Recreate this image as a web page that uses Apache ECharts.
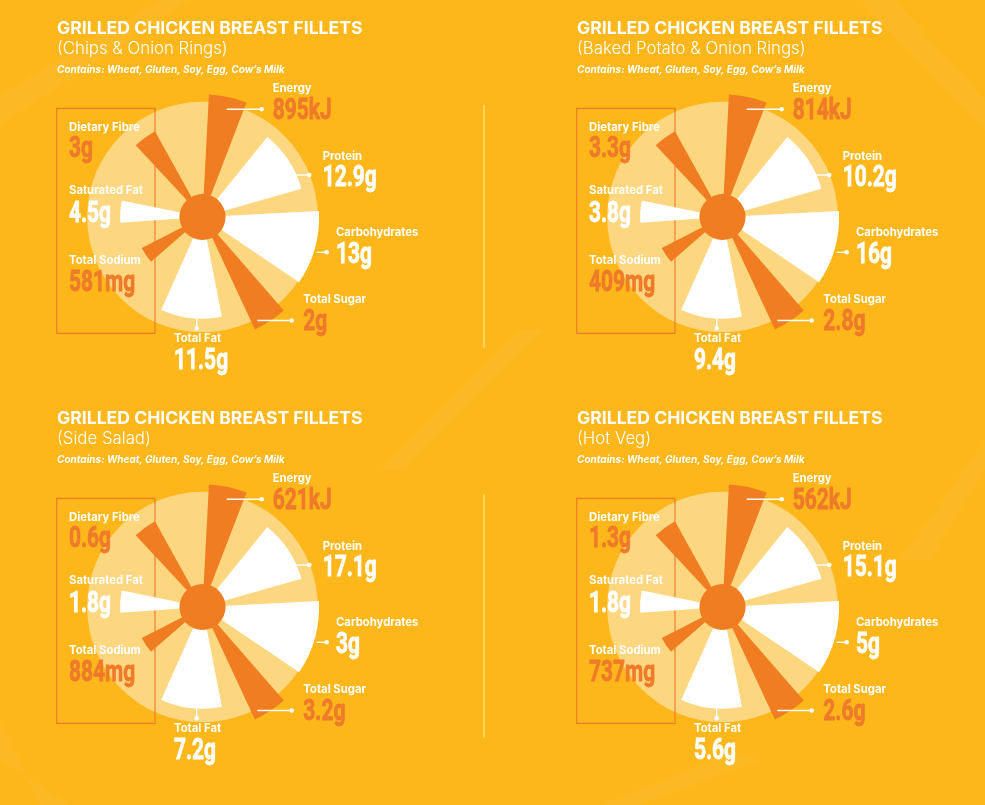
<!DOCTYPE html>
<html><head><meta charset="utf-8">
<script src="https://cdn.jsdelivr.net/npm/echarts@6/dist/echarts.min.js"></script>
<style>html,body{margin:0;padding:0;background:#FDB71B}#c{width:985px;height:805px}</style>
</head><body><div id="c"></div>
<script>
// ---------- data ----------
const title = 'GRILLED CHICKEN BREAST FILLETS';
const sides = ['(Chips & Onion Rings)', '(Baked Potato & Onion Rings)', '(Side Salad)', '(Hot Veg)'];
const allergens = 'Contains: Wheat, Gluten, Soy, Egg, Cow\u2019s Milk';
const nutrients = ['Energy', 'Protein', 'Carbohydrates', 'Total Sugar', 'Total Fat', 'Total Sodium', 'Saturated Fat', 'Dietary Fibre'];
const energy = ['895kJ', '814kJ', '621kJ', '562kJ'];
const protein = ['12.9g', '10.2g', '17.1g', '15.1g'];
const carbohydrates = ['13g', '16g', '3g', '5g'];
const totalSugar = ['2g', '2.8g', '3.2g', '2.6g'];
const totalFat = ['11.5g', '9.4g', '7.2g', '5.6g'];
const totalSodium = ['581mg', '409mg', '884mg', '737mg'];
const saturatedFat = ['4.5g', '3.8g', '1.8g', '1.8g'];
const dietaryFibre = ['3g', '3.3g', '0.6g', '1.3g'];
// decorative rose (same in every panel): angles in degrees clockwise from top, relative length 0-100
const wedgeStart = [3, 39, 87, 139, 169, 229, 266, 317];
const wedgeEnd = [21, 74, 124, 155, 204, 243, 281.5, 331];
const wedgeLength = [99, 83, 94, 100, 82, 55, 66.5, 79];
const wedgeTone = ['orange', 'white', 'white', 'orange', 'white', 'orange', 'white', 'orange'];
const backdropLength = [93];
const hubLength = [18.6];

// ---------- style / layout ----------
const ORANGE = '#F07D22', ORANGE_TXT = '#EE7A2A', WHITE = '#FFFFFF';
const BG = '#FDB71B', LIGHT = '#FDD680';
const centers = [[202.5, 217], [722.5, 217], [202.5, 607], [722.5, 607]];
const valuesByNutrient = [energy, protein, carbohydrates, totalSugar, totalFat, totalSodium, saturatedFat, dietaryFibre];
// label offsets from the rose centre: [x, labelY, valueY]
const labelPos = [
  [70.2, -128.3, -105],
  [120.2, -60.8, -38.2],
  [133.5, 15.5, 38.8],
  [100.8, 83, 105.5],
  [-28.5, 122, 145],
  [-133.5, 43.8, 66.4],
  [-133.5, -26.3, -2.8],
  [-133.5, -89, -67.3]
];
// leader lines: [x1, y1, x2, y2] offsets; dot at (x2, y2)
const leaders = [
  [24.2, -107.7, 59.2, -107.7],
  [94.2, -42, 106.8, -42],
  [114.2, 35.3, 124.2, 35.3],
  [54.8, 103.5, 89.2, 103.5],
  [-5.8, 101.3, -5.8, 111.3]
];

const LABEL_FONT = '700 11.3px Inter, "Open Sans", sans-serif';
const VALUE_FONT = '700 29.5px Roboto, "DejaVu Sans Condensed", sans-serif';
const VALUE_SCALE = 0.71;

function sectorItem(params, api) {
  const r = api.value(0), a1 = api.value(1), a2 = api.value(2);
  const c = api.coord([0, 0]);
  const p1 = api.coord([r, a1]);
  const p2 = api.coord([r, a2]);
  const rad = Math.hypot(p1[0] - c[0], p1[1] - c[1]);
  const fill = api.visual('color');
  if (a2 - a1 >= 360) {
    return { type: 'circle', shape: { cx: c[0], cy: c[1], r: rad }, style: { fill: fill } };
  }
  let s = Math.atan2(p1[1] - c[1], p1[0] - c[0]);
  let e = Math.atan2(p2[1] - c[1], p2[0] - c[0]);
  if (e <= s) e += Math.PI * 2;
  return { type: 'sector', shape: { cx: c[0], cy: c[1], r0: 0, r: rad, startAngle: s, endAngle: e, clockwise: true }, style: { fill: fill } };
}

const polar = [], angleAxis = [], radiusAxis = [], series = [], graphic = [];
const hidden = { axisLine: { show: false }, axisTick: { show: false }, axisLabel: { show: false }, splitLine: { show: false } };

// faint background rays
const rays = [
  [[0, 95], [0, 125], [190, 0], [160, 0]],
  [[380, 470], [405, 470], [545, 330], [520, 330]],
  [[900, 560], [930, 560], [985, 470], [985, 440]],
  [[600, 805], [640, 805], [760, 760], [735, 752]],
  [[0, 720], [0, 760], [70, 805], [40, 805]],
  [[860, 0], [895, 0], [985, 100], [985, 130]]
];
rays.forEach(pts => graphic.push({ type: 'polygon', z: 0, silent: true, shape: { points: pts }, style: { fill: 'rgba(255,255,255,0.035)' } }));

// dividers
graphic.push({ type: 'line', z: 1, shape: { x1: 484, y1: 105, x2: 484, y2: 348 }, style: { stroke: '#FEDC72', lineWidth: 1.5 } });
graphic.push({ type: 'line', z: 1, shape: { x1: 484, y1: 494, x2: 484, y2: 738 }, style: { stroke: '#FEDC72', lineWidth: 1.5 } });

centers.forEach((c, i) => {
  const [cx, cy] = c;
  polar.push({ center: [cx, cy], radius: 124 });
  angleAxis.push(Object.assign({ polarIndex: i, type: 'value', min: 0, max: 360, startAngle: 90, clockwise: true }, hidden));
  radiusAxis.push(Object.assign({ polarIndex: i, type: 'value', min: 0, max: 100 }, hidden));

  series.push({
    type: 'custom', coordinateSystem: 'polar', polarIndex: i, z: 1, silent: true,
    renderItem: sectorItem,
    data: backdropLength.map(r => ({ value: [r, 0, 360], itemStyle: { color: LIGHT } }))
  });
  series.push({
    type: 'custom', coordinateSystem: 'polar', polarIndex: i, z: 3, silent: true,
    renderItem: sectorItem,
    data: nutrients.map((n, k) => ({ name: n, value: [wedgeLength[k], wedgeStart[k], wedgeEnd[k]], itemStyle: { color: wedgeTone[k] === 'orange' ? ORANGE : WHITE } }))
  });
  series.push({
    type: 'custom', coordinateSystem: 'polar', polarIndex: i, z: 4, silent: true,
    renderItem: sectorItem,
    data: hubLength.map(r => ({ value: [r, 0, 360], itemStyle: { color: ORANGE } }))
  });

  // headings
  graphic.push({ type: 'text', z: 10, x: cx - 145.5, y: cy - 188.2, style: { text: title, fill: WHITE, font: '700 17.6px Inter, "Open Sans", sans-serif', verticalAlign: 'middle' } });
  graphic.push({ type: 'text', z: 10, x: cx - 145.5, y: cy - 168.5, style: { text: sides[i], fill: WHITE, font: '300 16.8px Inter, "Open Sans", sans-serif', verticalAlign: 'middle' } });
  graphic.push({ type: 'text', z: 10, x: cx - 145.5, y: cy - 147.3, style: { text: allergens, fill: WHITE, font: 'italic 700 10px Inter, "Open Sans", sans-serif', verticalAlign: 'middle' } });

  // box
  graphic.push({ type: 'rect', z: 2, shape: { x: cx - 145.8, y: cy - 108.7, width: 98.3, height: 225 }, style: { fill: 'none', stroke: 'rgba(236,112,40,0.85)', lineWidth: 1.2 } });

  // leaders
  leaders.forEach(l => {
    graphic.push({ type: 'line', z: 10, shape: { x1: cx + l[0], y1: cy + l[1], x2: cx + l[2], y2: cy + l[3] }, style: { stroke: WHITE, lineWidth: 1.4 } });
    graphic.push({ type: 'circle', z: 10, shape: { cx: cx + l[2], cy: cy + l[3], r: 2.3 }, style: { fill: WHITE } });
  });

  // labels + values
  nutrients.forEach((n, k) => {
    const p = labelPos[k];
    const col = wedgeTone[k] === 'orange' ? ORANGE_TXT : WHITE;
    graphic.push({ type: 'text', z: 10, x: cx + p[0], y: cy + p[1], style: { text: n, fill: WHITE, font: LABEL_FONT, verticalAlign: 'middle' } });
    graphic.push({ type: 'text', z: 10, x: cx + p[0], y: cy + p[2], scaleX: VALUE_SCALE, style: { text: valuesByNutrient[k][i], fill: col, stroke: col, lineWidth: 0.8, font: VALUE_FONT, verticalAlign: 'middle' } });
  });
});

const chart = echarts.init(document.getElementById('c'), null, { renderer: 'canvas' });
chart.setOption({
  backgroundColor: BG,
  animation: false,
  polar: polar,
  angleAxis: angleAxis,
  radiusAxis: radiusAxis,
  series: series,
  graphic: graphic
});
</script>
</body></html>
